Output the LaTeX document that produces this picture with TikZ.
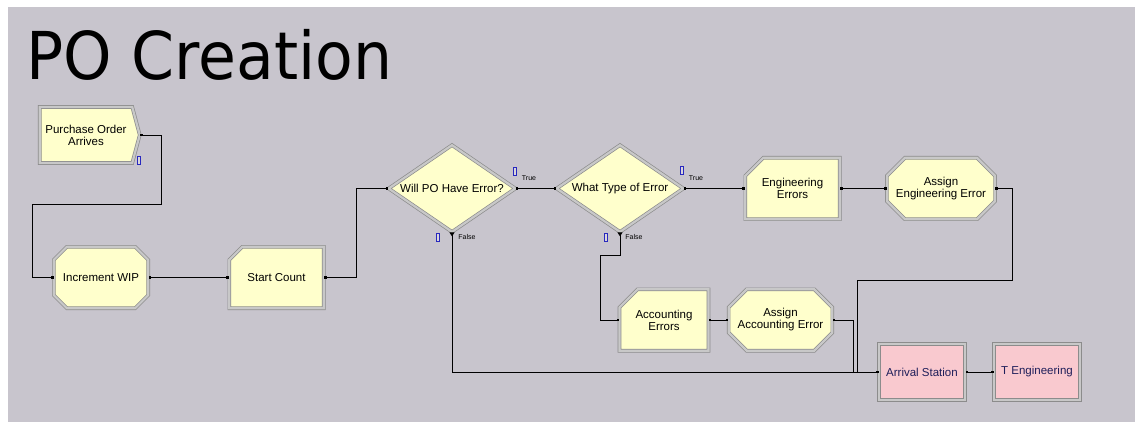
\documentclass[tikz,border=0pt]{standalone}
\usepackage{graphicx}
\usepackage{fontspec}
\setmainfont{Liberation Sans}
\newfontfamily\titlefont{DejaVu Sans}
\usetikzlibrary{shapes.geometric,shapes.misc,shapes.symbols,arrows.meta}
\definecolor{panel}{RGB}{200,197,205}
\definecolor{modfill}{RGB}{255,255,204}
\definecolor{stafill}{RGB}{249,201,207}
\definecolor{bevel}{RGB}{140,140,140}
\definecolor{bevelhi}{RGB}{200,200,200}
\definecolor{qblue}{RGB}{40,40,190}
\definecolor{navy}{RGB}{30,30,90}
\begin{document}
\begin{tikzpicture}[x=1pt,y=-1pt,
            module/.style={draw=bevel,double=bevelhi,double distance=2.2pt,line width=0.7pt,
                fill=modfill,align=center,inner sep=0pt,
                font=\fontsize{11.5}{12}\selectfont,minimum width=94.4,minimum height=61.4},
            create/.style={module,signal,signal to=east,signal pointer angle=150,
                minimum width=100,minimum height=56},
            assign/.style={module,chamfered rectangle,chamfered rectangle xsep=9pt,
                chamfered rectangle ysep=9pt},
            process/.style={module,chamfered rectangle,chamfered rectangle corners=north west,
                chamfered rectangle xsep=9pt,chamfered rectangle ysep=9pt},
            decide/.style={module,diamond,aspect=1.44,minimum width=127,minimum height=87},
            station/.style={module,rectangle,fill=stafill,text=navy,minimum width=86.4,minimum height=56.4},
            qbar/.style={draw=qblue,line width=0.8pt,fill=panel!70!white,minimum width=3,
                minimum height=8,inner sep=0pt},
            lbl/.style={font=\fontsize{7}{8}\selectfont,inner sep=0pt},
            conn/.style={line width=0.9pt,{Square[length=2.5pt,width=2.5pt]}-{Square[length=2.5pt,width=2.5pt]}},
            fconn/.style={line width=0.9pt,{Triangle[reversed,length=4pt,width=5pt]}-{Square[length=2.5pt,width=2.5pt]}}]
            \useasboundingbox (0,0) rectangle (1135,422);
            \fill[white] (0,0) rectangle (1135,422);
            \fill[panel] (8,7) rectangle (1135,422);
            \node [anchor=base west,inner sep=0pt] (title) at (26,80)
                {\scalebox{0.934}[1]{\titlefont\fontsize{66}{70}\selectfont PO Creation}};
            \node [create]  (po)  at (86,135)    {Purchase Order\\Arrives};
            \node [assign]  (wip) at (101,277.5) {Increment WIP};
            \node [process] (sc)  at (276.5,277.5) {Start Count};
            \node [decide]  (d1)  at (452,188.5) {Will PO Have Error?};
            \node [decide]  (d2)  at (620,188.5) {What Type of Error};
            \node [process] (ee)  at (792.5,188.5) {Engineering\\Errors};
            \node [assign]  (aee) at (941,188.5) {Assign\\Engineering Error};
            \node [process,minimum width=89] (ae)  at (664,320) {Accounting\\Errors};
            \node [assign,minimum width=90]  (aae) at (780.5,320) {Assign\\Accounting Error};
            \node [station] (as)  at (922,372)  {Arrival Station};
            \node [station] (te)  at (1037,372) {T Engineering};
            \node [qbar] (q1) at (139,160) {};
            \node [qbar] (q2) at (515,171) {};
            \node [qbar] (q3) at (438,237) {};
            \node [qbar] (q4) at (682,170) {};
            \node [qbar] (q5) at (606,237) {};
            \node [lbl] (t1) at (529,178) {True};
            \node [lbl] (f1) at (467,237) {False};
            \node [lbl] (t2) at (696,178) {True};
            \node [lbl] (f2) at (634,237) {False};
            \draw[conn] (po.east) -| (161,204) -| (32,277.5) -- (wip.west);
            \draw[conn] (wip.east) -- (sc.west);
            \draw[conn] (sc.east) -| (356,188.5) -- (d1.west);
            \draw[conn] (d1.east) -- (d2.west);
            \draw[conn] (d2.east) -- (ee.west);
            \draw[conn] (ee.east) -- (aee.west);
            \draw[conn] (aee.east) -| (1012,280) -| (857,372) -- (as.west);
            \draw[fconn] (d2.south) |- (600,255) |- (ae.west);
            \draw[conn] (ae.east) -- (aae.west);
            \draw[conn] (aae.east) -| (853,372) -- (as.west);
            \draw[fconn] (d1.south) |- (as.west);
            \draw[conn] (as.east) -- (te.west);
        \end{tikzpicture}
\end{document}
